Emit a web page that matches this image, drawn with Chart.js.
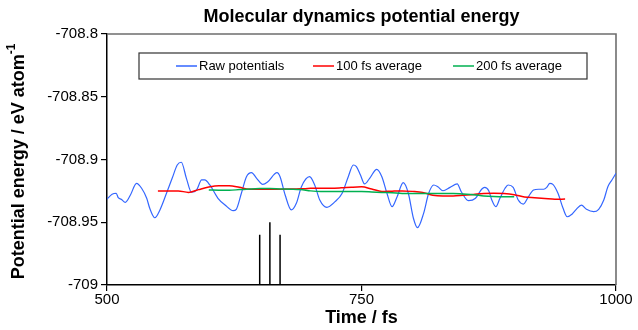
<!DOCTYPE html>
<html>
<head>
<meta charset="utf-8">
<script src="https://cdn.jsdelivr.net/npm/chart.js@4.4.0/dist/chart.umd.min.js"></script>
<style>
  html, body { margin: 0; padding: 0; background: #fff; }
  #wrap { width: 638px; height: 330px; }
</style>
</head>
<body>
<div id="wrap"><canvas id="c" width="638" height="330"></canvas></div>
<script>
/* ---------- data ---------- */
const rawTime = [500,505,509,511,514,518,523,529,534,539,542,547,552,559,564,569,573,578,583,588,
  593,596,601,609,616,624,627,632,637,642,647,653,658,667,670,675,681,686,691,699,
  704,709,716,724,731,737,742,745,749,753,758,765,770,775,780,785,791,796,801,805,
  811,816,821,825,830,837,844,848,855,862,868,871,875,878,882,886,891,894,899,904,
  909,914,919,924,929,932,935,938,943,948,952,957,961,966,971,978,983,988,992,996,1000];
const rawEnergy = [-708.9315,-708.9277,-708.9269,-708.9304,-708.9317,-708.9341,-708.9283,-708.9190,-708.9229,-708.9309,
  -708.9389,-708.9464,-708.9402,-708.9257,-708.9150,-708.9044,-708.9022,-708.9150,-708.9261,-708.9243,
  -708.9163,-708.9163,-708.9203,-708.9309,-708.9363,-708.9408,-708.9397,-708.9269,-708.9137,-708.9105,
  -708.9150,-708.9198,-708.9177,-708.9105,-708.9137,-708.9283,-708.9402,-708.9349,-708.9217,-708.9137,
  -708.9203,-708.9323,-708.9381,-708.9336,-708.9269,-708.9137,-708.9044,-708.9057,-708.9124,-708.9195,
  -708.9150,-708.9078,-708.9137,-708.9269,-708.9376,-708.9296,-708.9185,-708.9269,-708.9468,-708.9543,
  -708.9429,-708.9269,-708.9203,-708.9217,-708.9249,-708.9222,-708.9195,-708.9257,-708.9328,-708.9309,
  -708.9237,-708.9222,-708.9249,-708.9323,-708.9376,-708.9309,-708.9229,-708.9203,-708.9222,-708.9323,
  -708.9355,-708.9296,-708.9243,-708.9237,-708.9237,-708.9222,-708.9190,-708.9198,-708.9269,-708.9389,
  -708.9456,-708.9434,-708.9397,-708.9363,-708.9397,-708.9416,-708.9397,-708.9323,-708.9217,-708.9163,-708.9110];

const avg100Time = [550,560,570,580,590,600,610,620,630,640,650,660,670,680,690,700,710,720,730,740,
  750,760,770,780,790,800,810,820,830,840,850,860,870,880,890,900,910,920,930,940,950];
const avg100Energy = [-708.9250,-708.9250,-708.9250,-708.9262,-708.9240,-708.9220,-708.9210,-708.9210,-708.9222,-708.9237,
  -708.9237,-708.9237,-708.9237,-708.9236,-708.9234,-708.9230,-708.9229,-708.9229,-708.9226,-708.9221,
  -708.9218,-708.9235,-708.9255,-708.9252,-708.9250,-708.9254,-708.9262,-708.9285,-708.9291,-708.9291,
  -708.9285,-708.9278,-708.9270,-708.9269,-708.9271,-708.9280,-708.9298,-708.9305,-708.9311,-708.9317,-708.9315];

const avg200Time = [600,610,620,630,640,650,660,670,680,690,700,710,720,730,740,750,760,770,780,790,
  800,810,820,830,840,850,860,870,880,890,900];
const avg200Energy = [-708.9243,-708.9245,-708.9245,-708.9240,-708.9235,-708.9232,-708.9232,-708.9235,-708.9237,-708.9240,
  -708.9250,-708.9255,-708.9255,-708.9255,-708.9255,-708.9255,-708.9258,-708.9262,-708.9265,-708.9270,
  -708.9270,-708.9270,-708.9270,-708.9270,-708.9270,-708.9275,-708.9280,-708.9290,-708.9295,-708.9297,-708.9297];

// vertical marker lines
const markTime = [650,660,670];
const markTop  = [-708.96,-708.95,-708.96];
const markBase = -709;

const seriesLabels = ["Raw potentials","100 fs average","200 fs average"];
const xTicks = [500,750,1000];
const yMin = -709, yMax = -708.8, yStep = 0.05;

/* ---------- helpers ---------- */
const zip = (xs, ys) => xs.map((x,i) => ({x, y: ys[i]}));
const markPts = [];
markTime.forEach((t,i) => {
  markPts.push({x:t, y:markBase}, {x:t, y:markTop[i]}, {x:t, y:null});
});

const FONT = "'Liberation Sans', Arial, sans-serif";

/* ---------- decorations: titles, legend, frame ---------- */
const deco = {
  id: 'deco',
  beforeDatasetsDraw(chart) {
    const {ctx, chartArea: a} = chart;
    ctx.save();
    ctx.strokeStyle = '#6e6e6e';
    ctx.lineWidth = 1.6;
    ctx.beginPath();
    ctx.moveTo(a.left, a.top);
    ctx.lineTo(a.right, a.top);
    ctx.lineTo(a.right, a.bottom);
    ctx.stroke();
    ctx.restore();
  },
  afterDraw(chart) {
    const {ctx, chartArea: a} = chart;
    const cx = (a.left + a.right) / 2;
    ctx.save();
    ctx.fillStyle = '#000';
    // chart title
    ctx.font = "bold 18px " + FONT;
    ctx.textAlign = 'center';
    ctx.textBaseline = 'middle';
    ctx.fillText("Molecular dynamics potential energy", cx, 17);
    // x title
    ctx.font = "bold 18px " + FONT;
    ctx.fillText("Time / fs", cx, 318);
    // y title with superscript
    const main = "Potential energy / eV atom";
    const sup = "-1";
    ctx.translate(19, (a.top + a.bottom) / 2 + 2);
    ctx.rotate(-Math.PI / 2);
    ctx.font = "bold 18px " + FONT;
    const wMain = ctx.measureText(main).width;
    ctx.font = "bold 12px " + FONT;
    const wSup = ctx.measureText(sup).width;
    const start = -(wMain + wSup) / 2;
    ctx.textAlign = 'left';
    ctx.font = "bold 18px " + FONT;
    ctx.fillText(main, start, 0);
    ctx.font = "bold 12px " + FONT;
    ctx.fillText(sup, start + wMain, -7);
    ctx.restore();

    // legend box
    ctx.save();
    ctx.strokeStyle = '#333';
    ctx.lineWidth = 1.2;
    ctx.strokeRect(139, 53, 448, 26);
    const items = [[176, 0], [313, 1], [453, 2]];
    ctx.font = "13px " + FONT;
    ctx.textBaseline = 'middle';
    ctx.textAlign = 'left';
    items.forEach(([x, i]) => {
      const ds = chart.data.datasets[i];
      ctx.strokeStyle = ds.borderColor;
      ctx.lineWidth = 1.5;
      ctx.beginPath();
      ctx.moveTo(x, 66);
      ctx.lineTo(x + 21, 66);
      ctx.stroke();
      ctx.fillStyle = '#000';
      ctx.fillText(ds.label, x + 23, 66);
    });
    ctx.restore();
  }
};

/* ---------- chart ---------- */
new Chart(document.getElementById('c'), {
  type: 'line',
  data: {
    datasets: [
      { label: seriesLabels[0], data: zip(rawTime, rawEnergy), borderColor: '#3366ff',
        borderWidth: 1.2, pointRadius: 0, cubicInterpolationMode: 'monotone', order: 3 },
      { label: seriesLabels[1], data: zip(avg100Time, avg100Energy), borderColor: '#ff0000',
        borderWidth: 1.5, pointRadius: 0, cubicInterpolationMode: 'monotone', order: 2 },
      { label: seriesLabels[2], data: zip(avg200Time, avg200Energy), borderColor: '#00b050',
        borderWidth: 1.5, pointRadius: 0, cubicInterpolationMode: 'monotone', order: 1 },
      { label: 'marks', data: markPts, borderColor: '#000', borderWidth: 1.5,
        pointRadius: 0, spanGaps: false, tension: 0, order: 0 }
    ]
  },
  options: {
    responsive: false,
    animation: false,
    layout: { padding: { left: 0, right: 22, top: 34, bottom: 0 } },
    plugins: { legend: { display: false }, tooltip: { enabled: false } },
    scales: {
      x: {
        type: 'linear', min: 500, max: 1000,
        afterBuildTicks: s => { s.ticks = xTicks.map(v => ({value: v})); },
        afterFit: s => { s.height = 45; },
        border: { color: '#000', width: 1.5 },
        grid: { drawOnChartArea: false, drawTicks: true, tickLength: 6, color: '#000', lineWidth: 1.2 },
        ticks: { color: '#000', font: { family: FONT, size: 15 }, padding: 0, maxRotation: 0,
          callback: v => String(v) }
      },
      y: {
        min: yMin, max: yMax,
        afterFit: s => { s.width = 107; },
        border: { color: '#000', width: 1.5 },
        grid: { drawOnChartArea: false, drawTicks: true, tickLength: 6, color: '#000', lineWidth: 1.2 },
        ticks: { stepSize: yStep, color: '#000', font: { family: FONT, size: 15 }, padding: 3,
          callback: v => String(+v.toFixed(2)) }
      }
    }
  },
  plugins: [deco]
});
</script>
</body>
</html>
